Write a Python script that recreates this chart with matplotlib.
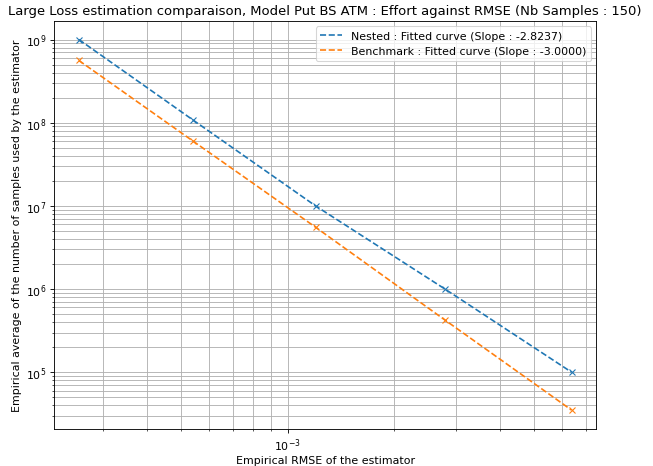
import matplotlib
matplotlib.use('Agg')
import matplotlib.pyplot as plt

# values
rmse = [2.565e-4, 5.41e-4, 1.20e-3, 2.79e-3, 6.37e-3]
nested_samples = [1.0e9, 1.07e8, 1.0e7, 1.0e6, 1.0e5]
benchmark_samples = [5.6e8, 5.97e7, 5.54e6, 4.24e5, 3.5e4]

nested_slope = -2.8237
benchmark_slope = -3.0000
nb_samples = 150

fig = plt.figure(figsize=(8.266, 5.911), dpi=79)
plt.subplots_adjust(left=0.083, right=0.913, bottom=0.08, top=0.953)

plt.loglog(rmse, nested_samples, '--', color='C0',
           label=f'Nested : Fitted curve (Slope : {nested_slope:.4f})')
plt.loglog(rmse, nested_samples, 'x', color='C0')
plt.loglog(rmse, benchmark_samples, '--', color='C1',
           label=f'Benchmark : Fitted curve (Slope : {benchmark_slope:.4f})')
plt.loglog(rmse, benchmark_samples, 'x', color='C1')

plt.grid(True, which='both')
plt.title(f'Large Loss estimation comparaison, Model Put BS ATM : Effort against RMSE (Nb Samples : {nb_samples})')
plt.xlabel('Empirical RMSE of the estimator', labelpad=2)
plt.ylabel('Empirical average of the number of samples used by the estimator')
plt.legend(loc='upper right')

plt.savefig('out.png', dpi=79)
